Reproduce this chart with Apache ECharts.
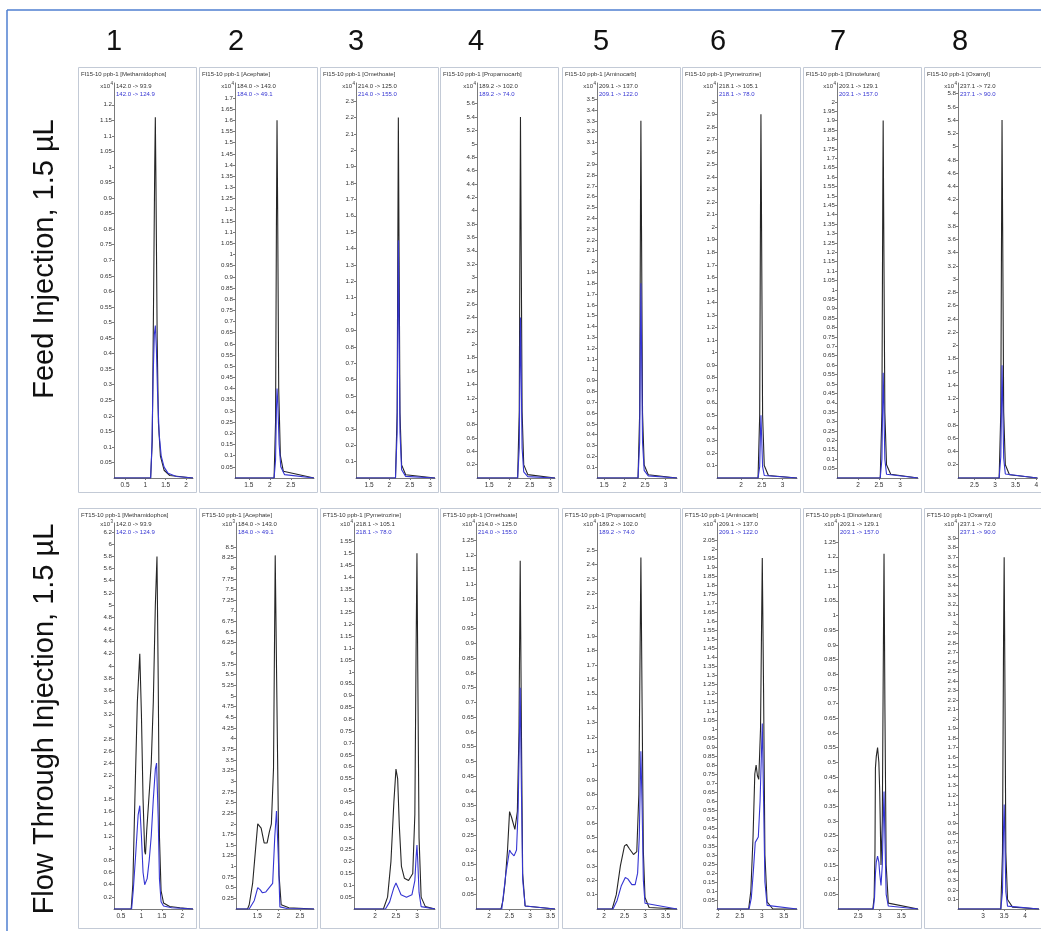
<!DOCTYPE html>
<html><head><meta charset="utf-8">
<script src="https://cdn.jsdelivr.net/npm/echarts@6/dist/echarts.min.js"></script>
<style>html,body{margin:0;padding:0;background:#fff}#c{width:1041px;height:931px}</style>
</head><body><div id="c"></div><script>
// ---------- DATA ----------
const columnLabels = ['1','2','3','4','5','6','7','8'];
const rowLabels = ['Feed Injection, 1.5 \u00B5L', 'Flow Through Injection, 1.5 \u00B5L'];
const rowPrefix = ['FI15-10 ppb-1', 'FT15-10 ppb-1'];
const compoundsFI = ['Methamidophos','Acephate','Omethoate','Propamocarb','Aminocarb','Pymetrozine','Dinotefuran','Oxamyl'];
const compoundsFT = ['Methamidophos','Acephate','Pymetrozine','Omethoate','Propamocarb','Aminocarb','Dinotefuran','Oxamyl'];
const quantTransition = {Methamidophos:'142.0 -> 93.9', Acephate:'184.0 -> 143.0', Omethoate:'214.0 -> 125.0', Propamocarb:'189.2 -> 102.0', Aminocarb:'209.1 -> 137.0', Pymetrozine:'218.1 -> 105.1', Dinotefuran:'203.1 -> 129.1', Oxamyl:'237.1 -> 72.0'};
const qualTransition = {Methamidophos:'142.0 -> 124.9', Acephate:'184.0 -> 49.1', Omethoate:'214.0 -> 155.0', Propamocarb:'189.2 -> 74.0', Aminocarb:'209.1 -> 122.0', Pymetrozine:'218.1 -> 78.0', Dinotefuran:'203.1 -> 157.0', Oxamyl:'237.1 -> 90.0'};
const exponentFI = [4,4,4,4,4,4,4,4];
const exponentFT = [3,3,4,4,4,4,4,4];

// axis ranges / ticks
const xMinFI = [0.23, 1.17, 1.18, 1.2, 1.33, 1.42, 1.5, 2.1];
const xMaxFI = [2.17, 3.05, 3.12, 3.12, 3.28, 3.35, 3.43, 4.03];
const xTicksFI = [[0.5,1,1.5,2],[1.5,2,2.5],[1.5,2,2.5,3],[1.5,2,2.5,3],[1.5,2,2.5,3],[2,2.5,3],[2,2.5,3],[2.5,3,3.5,4]];
const yMaxFI = [1.27, 1.767, 2.41, 5.91, 3.65, 3.15, 2.1, 5.96];
const yStepFI = [0.05, 0.05, 0.1, 0.2, 0.1, 0.1, 0.05, 0.2];
const yLabelMaxFI = [1.2, 1.7, 2.3, 5.6, 3.5, 3.0, 2.0, 5.8];

const xMinFT = [0.33, 1.0, 1.5, 1.68, 1.83, 1.98, 2.03, 2.4];
const xMaxFT = [2.26, 2.83, 3.43, 3.61, 3.78, 3.8, 3.89, 4.33];
const xTicksFT = [[0.5,1,1.5,2],[1.5,2,2.5],[2,2.5,3],[2,2.5,3,3.5],[2,2.5,3,3.5],[2,2.5,3,3.5],[2.5,3,3.5,4],[3,3.5,4]];
const yMaxFT = [6.35, 9.06, 1.628, 1.308, 2.69, 2.144, 1.315, 4.06];
const yStepFT = [0.2, 0.25, 0.05, 0.05, 0.1, 0.05, 0.05, 0.1];
const yLabelMaxFT = [6.2, 8.5, 1.55, 1.25, 2.5, 2.05, 1.25, 3.9];

// ---- Feed Injection traces (x: min, y: x10^4 counts) ----
const fiMethamidophosQuant = [[0.23,0],[1.13,0],[1.17,0.12],[1.2,0.55],[1.23,1.0],[1.245,1.16],[1.26,0.95],[1.29,0.45],[1.32,0.18],[1.37,0.07],[1.46,0.025],[1.6,0.008],[2.17,0]];
const fiMethamidophosQual = [[0.23,0],[1.13,0],[1.16,0.1],[1.19,0.32],[1.22,0.46],[1.245,0.49],[1.27,0.42],[1.3,0.27],[1.34,0.14],[1.39,0.07],[1.46,0.035],[1.56,0.015],[1.76,0.005],[2.17,0]];
const fiAcephateQuant = [[1.17,0],[2.1,0],[2.135,0.25],[2.155,1.1],[2.17,1.6],[2.185,1.2],[2.21,0.4],[2.25,0.1],[2.32,0.03],[3.05,0]];
const fiAcephateQual = [[1.17,0],[2.1,0],[2.135,0.08],[2.155,0.3],[2.17,0.4],[2.19,0.33],[2.22,0.15],[2.26,0.05],[2.35,0.015],[3.05,0]];
const fiOmethoateQuant = [[1.18,0],[2.15,0],[2.19,0.4],[2.21,1.6],[2.22,2.2],[2.235,1.5],[2.26,0.4],[2.3,0.08],[2.4,0.02],[3.12,0]];
const fiOmethoateQual = [[1.18,0],[2.15,0],[2.19,0.28],[2.21,1.05],[2.22,1.45],[2.235,1.0],[2.26,0.28],[2.3,0.05],[2.4,0.01],[3.12,0]];
const fiPropamocarbQuant = [[1.2,0],[2.2,0],[2.24,1.0],[2.26,4.0],[2.27,5.4],[2.285,3.8],[2.31,1.0],[2.35,0.2],[2.45,0.05],[3.12,0]];
const fiPropamocarbQual = [[1.2,0],[2.2,0],[2.24,0.45],[2.26,1.8],[2.27,2.4],[2.285,1.7],[2.31,0.45],[2.35,0.09],[2.45,0.02],[3.12,0]];
const fiAminocarbQuant = [[1.33,0],[2.33,0],[2.37,0.6],[2.39,2.5],[2.4,3.3],[2.415,2.3],[2.44,0.6],[2.48,0.12],[2.58,0.03],[3.28,0]];
const fiAminocarbQual = [[1.33,0],[2.33,0],[2.37,0.33],[2.39,1.35],[2.4,1.8],[2.415,1.25],[2.44,0.33],[2.48,0.07],[2.58,0.02],[3.28,0]];
const fiPymetrozineQuant = [[1.42,0],[2.41,0],[2.45,0.5],[2.47,2.2],[2.48,2.9],[2.495,2.0],[2.52,0.5],[2.56,0.1],[2.66,0.02],[3.35,0]];
const fiPymetrozineQual = [[1.42,0],[2.41,0],[2.45,0.09],[2.47,0.38],[2.48,0.5],[2.495,0.35],[2.52,0.09],[2.56,0.02],[3.35,0]];
const fiDinotefuranQuant = [[1.5,0],[2.53,0],[2.57,0.35],[2.59,1.45],[2.6,1.9],[2.615,1.3],[2.64,0.35],[2.68,0.07],[2.78,0.02],[3.43,0]];
const fiDinotefuranQual = [[1.5,0],[2.53,0],[2.57,0.1],[2.59,0.43],[2.6,0.56],[2.615,0.4],[2.64,0.1],[2.68,0.02],[3.43,0]];
const fiOxamylQuant = [[2.1,0],[3.1,0],[3.14,1.0],[3.16,4.0],[3.17,5.4],[3.185,3.8],[3.21,1.0],[3.25,0.2],[3.35,0.05],[4.03,0]];
const fiOxamylQual = [[2.1,0],[3.1,0],[3.14,0.32],[3.16,1.25],[3.17,1.7],[3.185,1.2],[3.21,0.3],[3.25,0.06],[4.03,0]];

// ---- Flow Through traces ----
const ftMethamidophosQuant = [[0.33,0],[0.75,0],[0.79,0.4],[0.84,1.8],[0.9,3.4],[0.96,4.2],[1.0,3.2],[1.04,1.8],[1.08,0.95],[1.1,0.9],[1.13,1.3],[1.18,1.8],[1.24,2.4],[1.29,3.4],[1.34,5.0],[1.38,5.8],[1.41,3.8],[1.44,1.2],[1.48,0.3],[1.54,0.1],[1.69,0.04],[1.94,0.02],[2.26,0]];
const ftMethamidophosQual = [[0.33,0],[0.76,0],[0.8,0.3],[0.86,0.9],[0.92,1.55],[0.96,1.7],[1.0,1.2],[1.04,0.6],[1.08,0.4],[1.11,0.38],[1.14,0.5],[1.19,0.8],[1.24,1.2],[1.29,1.8],[1.34,2.3],[1.37,2.4],[1.41,1.5],[1.44,0.5],[1.48,0.12],[1.54,0.05],[1.74,0.02],[2.26,0]];
const ftAcephateQuant = [[1.0,0],[1.27,0],[1.31,0.1],[1.39,0.6],[1.45,1.3],[1.51,2.0],[1.59,1.9],[1.66,1.55],[1.73,1.55],[1.78,1.8],[1.83,2.0],[1.88,3.3],[1.92,8.3],[1.97,4.0],[2.01,0.8],[2.06,0.1],[2.24,0.03],[2.83,0]];
const ftAcephateQual = [[1.0,0],[1.31,0],[1.43,0.2],[1.51,0.5],[1.57,0.45],[1.62,0.38],[1.7,0.4],[1.78,0.5],[1.86,0.6],[1.91,1.7],[1.95,2.3],[1.99,1.3],[2.03,0.05],[2.2,0.01],[2.83,0]];
const ftPymetrozineQuant = [[1.5,0],[2.2,0],[2.3,0.05],[2.38,0.2],[2.45,0.45],[2.5,0.59],[2.54,0.55],[2.58,0.35],[2.63,0.18],[2.7,0.13],[2.8,0.12],[2.9,0.15],[2.95,0.4],[2.98,1.1],[3.0,1.5],[3.02,1.0],[3.05,0.3],[3.1,0.05],[3.2,0.01],[3.43,0]];
const ftPymetrozineQual = [[1.5,0],[2.25,0],[2.35,0.03],[2.45,0.09],[2.5,0.11],[2.55,0.09],[2.62,0.06],[2.75,0.05],[2.88,0.06],[2.95,0.12],[2.98,0.22],[3.0,0.27],[3.02,0.2],[3.05,0.07],[3.1,0.01],[3.43,0]];
const ftOmethoateQuant = [[1.68,0],[2.29,0],[2.34,0.03],[2.39,0.09],[2.45,0.2],[2.5,0.33],[2.55,0.31],[2.63,0.27],[2.69,0.33],[2.73,0.6],[2.76,1.18],[2.79,0.6],[2.82,0.12],[2.88,0.01],[3.61,0]];
const ftOmethoateQual = [[1.68,0],[2.31,0],[2.41,0.12],[2.5,0.2],[2.54,0.19],[2.61,0.18],[2.67,0.2],[2.71,0.34],[2.76,0.75],[2.79,0.4],[2.82,0.1],[2.88,0.01],[3.61,0]];
const ftPropamocarbQuant = [[1.83,0],[2.2,0],[2.3,0.1],[2.4,0.3],[2.5,0.44],[2.55,0.45],[2.62,0.42],[2.72,0.38],[2.8,0.4],[2.85,0.8],[2.9,2.45],[2.93,1.4],[2.96,0.4],[3.0,0.08],[3.1,0.01],[3.78,0]];
const ftPropamocarbQual = [[1.83,0],[2.22,0],[2.32,0.06],[2.42,0.16],[2.52,0.22],[2.58,0.21],[2.68,0.17],[2.76,0.17],[2.82,0.25],[2.86,0.5],[2.9,1.1],[2.93,0.7],[2.96,0.2],[3.0,0.04],[3.78,0]];
const ftAminocarbQuant = [[1.98,0],[2.7,0],[2.75,0.1],[2.8,0.4],[2.84,0.75],[2.87,0.8],[2.9,0.74],[2.93,0.72],[2.97,1.0],[3.01,1.95],[3.04,1.2],[3.07,0.3],[3.12,0.04],[3.25,0],[3.8,0]];
const ftAminocarbQual = [[1.98,0],[2.71,0],[2.76,0.06],[2.81,0.22],[2.85,0.37],[2.88,0.38],[2.92,0.4],[2.96,0.6],[3.01,1.03],[3.04,0.6],[3.07,0.15],[3.12,0.02],[3.8,0]];
const ftDinotefuranQuant = [[2.03,0],[2.84,0],[2.87,0.04],[2.89,0.2],[2.9,0.48],[2.92,0.52],[2.95,0.55],[2.98,0.5],[3.0,0.4],[3.03,0.15],[3.06,0.3],[3.09,1.0],[3.1,1.21],[3.12,0.7],[3.15,0.15],[3.2,0.02],[3.89,0]];
const ftDinotefuranQual = [[2.03,0],[2.85,0],[2.88,0.04],[2.9,0.12],[2.92,0.16],[2.95,0.18],[2.98,0.16],[3.0,0.12],[3.03,0.08],[3.06,0.15],[3.09,0.35],[3.1,0.4],[3.12,0.25],[3.15,0.05],[3.2,0.01],[3.89,0]];
const ftOxamylQuant = [[2.4,0],[3.42,0],[3.46,0.6],[3.485,2.8],[3.5,3.7],[3.515,2.6],[3.54,0.6],[3.58,0.1],[3.7,0.02],[4.33,0]];
const ftOxamylQual = [[2.4,0],[3.42,0],[3.46,0.18],[3.485,0.85],[3.5,1.1],[3.515,0.78],[3.54,0.18],[3.58,0.03],[4.33,0]];

const quantFI = [fiMethamidophosQuant, fiAcephateQuant, fiOmethoateQuant, fiPropamocarbQuant, fiAminocarbQuant, fiPymetrozineQuant, fiDinotefuranQuant, fiOxamylQuant];
const qualFI = [fiMethamidophosQual, fiAcephateQual, fiOmethoateQual, fiPropamocarbQual, fiAminocarbQual, fiPymetrozineQual, fiDinotefuranQual, fiOxamylQual];
const quantFT = [ftMethamidophosQuant, ftAcephateQuant, ftPymetrozineQuant, ftOmethoateQuant, ftPropamocarbQuant, ftAminocarbQuant, ftDinotefuranQuant, ftOxamylQuant];
const qualFT = [ftMethamidophosQual, ftAcephateQual, ftPymetrozineQual, ftOmethoateQual, ftPropamocarbQual, ftAminocarbQual, ftDinotefuranQual, ftOxamylQual];

// ---------- LAYOUT ----------
const colLeft = [78, 199, 320, 440, 562, 682, 803, 924];
const boxW = 118;
const boxTop = [67, 508], boxBottom = [492, 928];
const axisXpx = [[114, 235, 356, 477, 597, 717, 837, 958],[114, 236, 354, 476, 597, 717, 838, 958]];
const axisTopPx = [83, 523], zeroPx = [478, 909];
const headerX = [114, 236, 356, 476, 601, 718, 838, 960];

const FONT = '"Liberation Sans", Arial, sans-serif';
const BLACK = '#262626', BLUE = '#3434d2';

function fmt(v){ return String(parseFloat(v.toFixed(3))); }
function yTicks(step, maxLab){ const a=[]; for(let k=1; k*step <= maxLab + 1e-9; k++) a.push(Math.round(k*step*1000)/1000); return a; }

const grids=[], xAxes=[], yAxes=[], series=[], graphics=[];
const rows = [
  {comp: compoundsFI, exp: exponentFI, xMin: xMinFI, xMax: xMaxFI, xT: xTicksFI, yMax: yMaxFI, yStep: yStepFI, yLab: yLabelMaxFI, quant: quantFI, qual: qualFI},
  {comp: compoundsFT, exp: exponentFT, xMin: xMinFT, xMax: xMaxFT, xT: xTicksFT, yMax: yMaxFT, yStep: yStepFT, yLab: yLabelMaxFT, quant: quantFT, qual: qualFT}
];

// frame
graphics.push({type:'line', shape:{x1:7, y1:10, x2:1041, y2:10}, style:{stroke:'#4f7fd0', lineWidth:1.5}, z:1});
graphics.push({type:'line', shape:{x1:7, y1:10, x2:7, y2:931}, style:{stroke:'#4f7fd0', lineWidth:1.5}, z:1});
columnLabels.forEach((t,i)=>graphics.push({type:'text', x:headerX[i], y:42, style:{text:t, font:'29px '+FONT, fill:'#111', textAlign:'center', textVerticalAlign:'middle'}}));
graphics.push({type:'text', x:45, y:259, rotation:Math.PI/2, style:{text:rowLabels[0], font:'29px '+FONT, fill:'#111', textAlign:'center', textVerticalAlign:'middle'}});
graphics.push({type:'text', x:45, y:719, rotation:Math.PI/2, style:{text:rowLabels[1], font:'29px '+FONT, fill:'#111', textAlign:'center', textVerticalAlign:'middle'}});

rows.forEach((R, r)=>{
  for(let c=0;c<8;c++){
    const idx = r*8+c;
    const bl = colLeft[c], br = bl+boxW;
    const ax = axisXpx[r][c];
    graphics.push({type:'rect', shape:{x:bl+0.5, y:boxTop[r]+0.5, width:boxW, height:boxBottom[r]-boxTop[r]}, style:{fill:'#fff', stroke:'#c3cad6', lineWidth:1}, z:-10});
    const name = R.comp[c];
    const ty = axisTopPx[r] + (r===0 ? 3 : 1);
    graphics.push({type:'text', x:bl+3, y:boxTop[r]+7, style:{text:rowPrefix[r]+' ['+name+']', font:'6px '+FONT, fill:'#333', textVerticalAlign:'middle'}});
    graphics.push({type:'text', x:ax-4, y:ty, style:{text:'x10', font:'6px '+FONT, fill:'#333', textAlign:'right', textVerticalAlign:'middle'}});
    graphics.push({type:'text', x:ax-3.5, y:ty-2, style:{text:String(R.exp[c]), font:'4.5px '+FONT, fill:'#333', textVerticalAlign:'middle'}});
    graphics.push({type:'text', x:ax+2, y:ty, style:{text:quantTransition[name], font:'6px '+FONT, fill:'#333', textVerticalAlign:'middle'}});
    graphics.push({type:'text', x:ax+2, y:ty+8.5, style:{text:qualTransition[name], font:'6px '+FONT, fill:BLUE, textVerticalAlign:'middle'}});

    grids.push({left:ax, top:axisTopPx[r], width:br-3-ax, height:zeroPx[r]-axisTopPx[r]});
    const yt = yTicks(R.yStep[c], R.yLab[c]);
    xAxes.push({type:'value', gridIndex:idx, min:R.xMin[c], max:R.xMax[c],
      axisLine:{show:true, onZero:false, lineStyle:{color:'#7a7a7a', width:1}},
      axisTick:{show:true, length:2, customValues:R.xT[c], lineStyle:{color:'#7a7a7a'}},
      axisLabel:{customValues:R.xT[c], formatter:fmt, fontSize:6.5, fontFamily:FONT, color:'#333', margin:4},
      splitLine:{show:false}});
    yAxes.push({type:'value', gridIndex:idx, min:0, max:R.yMax[c],
      axisLine:{show:true, onZero:false, lineStyle:{color:'#7a7a7a', width:1}},
      axisTick:{show:true, length:2, customValues:yt, lineStyle:{color:'#7a7a7a'}},
      axisLabel:{customValues:yt, formatter:fmt, fontSize:6.2, fontFamily:FONT, color:'#333', margin:2},
      splitLine:{show:false}});
    series.push({type:'line', xAxisIndex:idx, yAxisIndex:idx, data:R.quant[c], showSymbol:false, symbol:'none', silent:true, lineStyle:{color:BLACK, width:1.1}, z:2});
    series.push({type:'line', xAxisIndex:idx, yAxisIndex:idx, data:R.qual[c], showSymbol:false, symbol:'none', silent:true, lineStyle:{color:BLUE, width:1.1}, z:3});
  }
});

const chart = echarts.init(document.getElementById('c'), null, {renderer:'canvas'});
chart.setOption({animation:false, backgroundColor:'#fff', grid:grids, xAxis:xAxes, yAxis:yAxes, series:series, graphic:{elements:graphics}});
</script></body></html>
